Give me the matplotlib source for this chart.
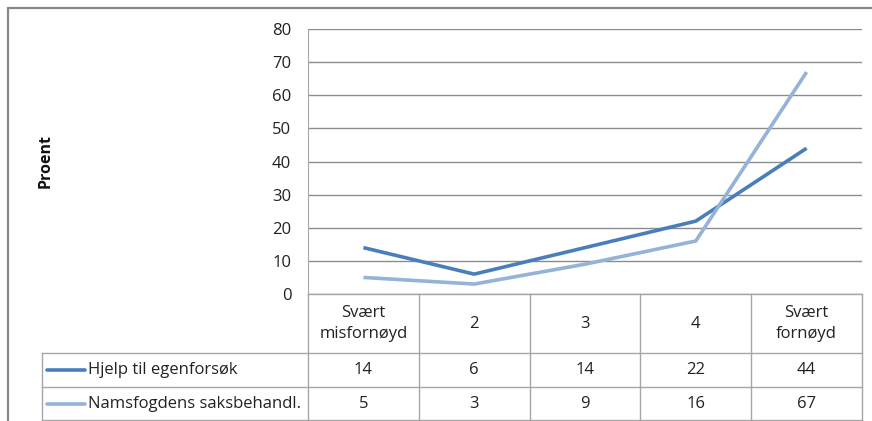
import matplotlib
matplotlib.use("Agg")
import matplotlib.pyplot as plt
from matplotlib.lines import Line2D
from matplotlib.patches import Rectangle

categories = ["Svært\nmisfornøyd", "2", "3", "4", "Svært\nfornøyd"]
series_names = ["Hjelp til egenforsøk", "Namsfogdens saksbehandl."]
hjelp = [14, 6, 14, 22, 44]
namsfogd = [5, 3, 9, 16, 67]
series_values = [hjelp, namsfogd]
series_colors = ["#4A7EBB", "#95B3D7"]
y_ticks = [0, 10, 20, 30, 40, 50, 60, 70, 80]
y_label = "Proent"

plt.rcParams["font.family"] = ["Open Sans", "DejaVu Sans"]
FS = 12

W, H = 872, 421
fig = plt.figure(figsize=(W / 100, H / 100), dpi=100)

def px(x0, y0, x1, y1):
    # pixel box (top-left origin) -> figure fraction rect
    return [x0 / W, 1 - y1 / H, (x1 - x0) / W, (y1 - y0) / H]

# outer chart border
fig.add_artist(Rectangle((8 / W, -0.1), 1.0, 1 - 8 / H + 0.1,
                         transform=fig.transFigure, fill=False,
                         edgecolor="#878787", linewidth=1.6))

ax_left, ax_right, ax_top, ax_bottom = 308, 862, 29, 294
ax = fig.add_axes(px(ax_left, ax_top, ax_right, ax_bottom))
n = len(categories)
x = list(range(n))
for vals, col in zip(series_values, series_colors):
    ax.plot(x, vals, color=col, linewidth=2.6, solid_capstyle="butt", zorder=3)

ax.set_xlim(-0.5, n - 0.5)
ax.set_ylim(y_ticks[0], y_ticks[-1])
ax.set_yticks(y_ticks)
ax.set_xticks([])
ax.yaxis.grid(True, color="#8C8C8C", linewidth=1.0)
ax.set_axisbelow(True)
for s in ["top", "right", "bottom"]:
    ax.spines[s].set_visible(False)
ax.spines["left"].set_color("#A6A6A6")
ax.tick_params(axis="y", length=0, pad=12, labelsize=FS, labelcolor="#222222")

# data table below the plot
grid_col = "#A6A6A6"
col_w = (ax_right - ax_left) / n
table_left = 42
rows_y = [294, 353, 387, 420]

def fig_line(xs, ys):
    fig.add_artist(Line2D([v / W for v in xs], [1 - v / H for v in ys],
                          transform=fig.transFigure, color=grid_col, linewidth=1.0))

# horizontal rules
fig_line([ax_left, ax_right], [rows_y[0], rows_y[0]])
for yy in rows_y[1:]:
    fig_line([table_left, ax_right], [yy, yy])
# vertical rules
for i in range(n + 1):
    xx = ax_left + i * col_w
    fig_line([xx, xx], [rows_y[0], rows_y[-1]])
fig_line([table_left, table_left], [rows_y[1], rows_y[-1]])

# header cells
for i, cat in enumerate(categories):
    cx = ax_left + (i + 0.5) * col_w
    cy = (rows_y[0] + rows_y[1]) / 2
    fig.text(cx / W, 1 - cy / H, cat, ha="center", va="center",
             fontsize=FS, color="#222222", linespacing=1.38)

# value rows with legend keys
for r, (name, vals, col) in enumerate(zip(series_names, series_values, series_colors)):
    cy = (rows_y[r + 1] + rows_y[r + 2]) / 2
    fig.add_artist(Line2D([47 / W, 85 / W], [1 - cy / H, 1 - cy / H],
                          transform=fig.transFigure, color=col,
                          linewidth=2.6, solid_capstyle="round"))
    fig.text(88 / W, 1 - cy / H, name, ha="left", va="center",
             fontsize=FS, color="#222222")
    for i, v in enumerate(vals):
        cx = ax_left + (i + 0.5) * col_w
        fig.text(cx / W, 1 - cy / H, str(v), ha="center", va="center",
                 fontsize=FS, color="#222222")

fig.text(46 / W, 1 - 161 / H, y_label, rotation=90, ha="center", va="center",
         fontsize=11.5, fontweight="bold", color="#111111")

fig.savefig("out.png", dpi=100)
